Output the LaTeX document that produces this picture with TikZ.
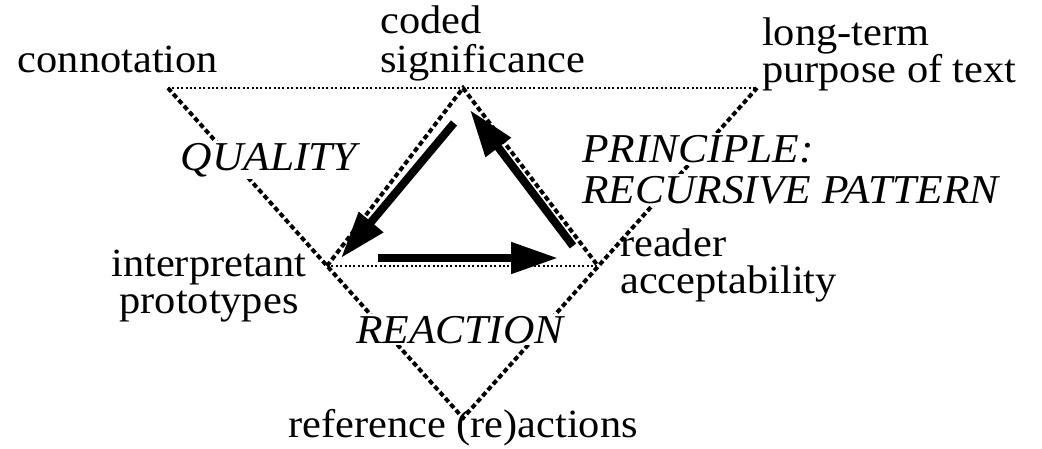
\documentclass[tikz,border=0pt]{standalone}
\usepackage{fontspec}
\setmainfont{Liberation Serif}[FakeStretch=1.06]
\usetikzlibrary{arrows.meta}
\begin{document}
\begin{tikzpicture}[x=1pt,y=-1pt,
  lbl/.style={inner sep=0pt, font=\fontsize{40}{40}\selectfont},
  tag/.style={inner sep=2pt, fill=white, font=\fontsize{41}{41}\selectfont\itshape},
  edge/.style={line width=4pt, dash pattern=on 5pt off 3pt},
  dots/.style={line width=2.2pt, dash pattern=on 2pt off 2.4pt},
  flow/.style={line width=8pt, -{Triangle[length=47pt,width=30pt]}}]
\useasboundingbox (0,0) rectangle (1042,448);

% outer (inverted) triangle and inner triangle
\coordinate (TL) at (168,88);
\coordinate (TR) at (757,88);
\coordinate (B)  at (463,418);
\coordinate (T)  at (463,88);
\coordinate (L)  at (327,266);
\coordinate (R)  at (598,266);

\draw[dots] (TL) -- (TR);
\draw[edge] (TL) -- (B) -- (TR);
\draw[edge] (L) -- (T) -- (R);
\draw[dots] (L) -- (R);

% cycle of arrows round the inner triangle
\coordinate (a1s) at (454,123);
\coordinate (a1e) at (341,258);
\coordinate (a2s) at (378,258);
\coordinate (a2e) at (558,258);
\coordinate (a3s) at (573,246);
\coordinate (a3e) at (470,110);
\draw[flow] (a1s) -- (a1e);
\draw[flow] (a2s) -- (a2e);
\draw[flow] (a3s) -- (a3e);

% labels at the corners
\node[lbl, anchor=base] (conn) at (118,72) {connotation};
\node[lbl, anchor=base west] (coded) at (380,33) {coded};
\node[lbl, anchor=base west] (signif) at (380,72) {significance};
\node[lbl, anchor=base west] (longterm) at (762,45) {long-term};
\node[lbl, anchor=base west] (purpose) at (762,82) {purpose of text};
\node[lbl, anchor=base] (interp) at (209,276) {interpretant};
\node[lbl, anchor=base] (proto) at (209,313) {prototypes};
\node[lbl, anchor=base west] (reader) at (620,256) {reader};
\node[lbl, anchor=base west] (accept) at (620,293) {acceptability};
\node[lbl, anchor=base] (refer) at (463,437) {reference (re)actions};

% labels on the edges
\node[tag, anchor=base] (quality) at (269,170) {QUALITY};
\node[tag, anchor=base west] (principle) at (580,162) {PRINCIPLE:};
\node[tag, anchor=base west] (recursive) at (580,203) {RECURSIVE PATTERN};
\node[tag, anchor=base] (reaction) at (460,343) {REACTION};
\end{tikzpicture}
\end{document}
